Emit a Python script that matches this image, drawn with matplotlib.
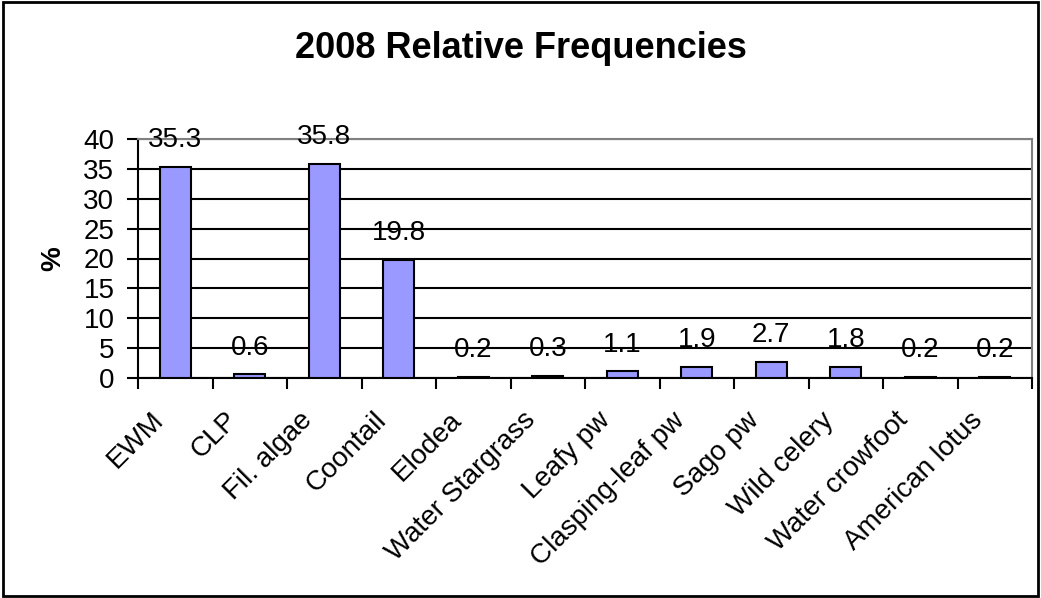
import numpy as np
import matplotlib.pyplot as plt
from matplotlib.transforms import ScaledTranslation

plt.rcParams['font.family'] = ['Liberation Sans', 'DejaVu Sans']

species = ['EWM', 'CLP', 'Fil. algae', 'Coontail', 'Elodea', 'Water Stargrass',
           'Leafy pw', 'Clasping-leaf pw', 'Sago pw', 'Wild celery',
           'Water crowfoot', 'American lotus']
freq = [35.3, 0.6, 35.8, 19.8, 0.2, 0.3, 1.1, 1.9, 2.7, 1.8, 0.2, 0.2]

fig = plt.figure(figsize=(10.41, 5.98), dpi=100)
# outer chart frame
fig.patches.append(plt.Rectangle((0.003, 0.003), 0.994, 0.994, transform=fig.transFigure,
                                 fill=False, edgecolor='black', linewidth=2))

ax = fig.add_axes([138/1041, 1-378/598, (1032-138)/1041, (378-139)/598])
x = np.arange(len(species))
bars = ax.bar(x, freq, width=0.42, color='#9999ff', edgecolor='black', linewidth=1.5, zorder=3)

for xi, v in zip(x, freq):
    ax.annotate('%.1f' % v, (xi, v), xytext=(0, 10), textcoords='offset points',
                ha='center', va='bottom', fontsize=20, zorder=4)

ax.set_xlim(-0.5, len(species)-0.5)
ax.set_ylim(0, 40)
ax.set_yticks(np.arange(0, 41, 5))
ax.yaxis.grid(True, color='black', linewidth=1.5, zorder=0)
ax.set_axisbelow(True)

ax.set_xticks(x)
ax.set_xticklabels(species, rotation=45, ha='right', rotation_mode='anchor', fontsize=20)
ax.tick_params(axis='x', length=0, pad=21)
shift = ScaledTranslation(-0.25, 0, fig.dpi_scale_trans)
for lab in ax.get_xticklabels():
    lab.set_transform(lab.get_transform() + shift)
ax.set_xticks(np.arange(-0.5, len(species)), minor=True)
ax.tick_params(axis='x', which='minor', length=8, width=1.5, direction='out')
ax.tick_params(axis='y', labelsize=20, length=8, width=1.5, direction='out', pad=9)

for s in ['left', 'bottom']:
    ax.spines[s].set_linewidth(1.5)
for s in ['top', 'right']:
    ax.spines[s].set_color('#808080')
    ax.spines[s].set_linewidth(1.5)

ax.set_ylabel('%', fontsize=20, fontweight='bold', labelpad=12)
fig.text(0.5, 1-48/598, '2008 Relative Frequencies', ha='center', va='center',
         fontsize=26, fontweight='bold')

plt.savefig('out.png', dpi=100)
